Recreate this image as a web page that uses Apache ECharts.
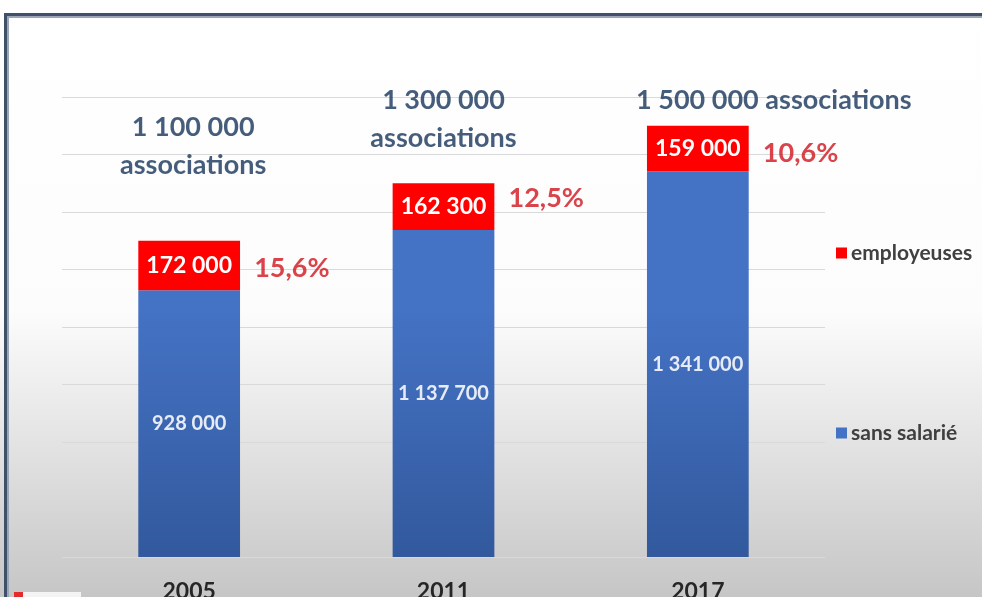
<!DOCTYPE html>
<html><head><meta charset="utf-8">
<script src="https://cdn.jsdelivr.net/npm/echarts@6/dist/echarts.min.js"></script>
<style>html,body{margin:0;padding:0;background:#fff}#c{width:982px;height:597px}</style>
</head><body><div id="c"></div>
<script>
const categories = ['2005', '2011', '2017'];
const sansSalarie = [928000, 1137700, 1341000];
const employeuses = [172000, 162300, 159000];
const totals = [1100000, 1300000, 1500000];
const percentages = ['15,6%', '12,5%', '10,6%'];
const yTicks = [0, 200000, 400000, 600000, 800000, 1000000, 1200000, 1400000, 1600000];

const fmt = v => String(v).replace(/\B(?=(\d{3})+(?!\d))/g, ' ');
const FONT = 'Lato';
const totalLabelStyles = [
  {text: fmt(totals[0]) + '\nassociations', distance: 56, offset: [4, 0]},
  {text: fmt(totals[1]) + '\nassociations', distance: 26, offset: [0, 0]},
  {text: fmt(totals[2]) + ' associations', distance: 6, offset: [76, 0]}
];
const pctOffsets = [[0, 3], [0, -8], [0, 5]];

const chart = echarts.init(document.getElementById('c'), null, {renderer: 'canvas'});
chart.setOption({
  animation: false,
  textStyle: {fontFamily: FONT},
  graphic: [
    {type: 'rect', z: -10, silent: true, shape: {x: 0, y: 0, width: 982, height: 597},
     style: {fill: {type: 'linear', x: 0, y: 0, x2: 0, y2: 1,
       colorStops: [{offset: 0, color: '#ffffff'}, {offset: 0.52, color: '#fcfcfc'}, {offset: 1, color: '#c6c6c6'}]}}},
    {type: 'rect', z: 10, silent: true, shape: {x: 4, y: 13, width: 978, height: 3}, style: {fill: '#3f5068'}},
    {type: 'rect', z: 10, silent: true, shape: {x: 4, y: 16, width: 978, height: 2}, style: {fill: '#9aa6b6'}},
    {type: 'rect', z: 10, silent: true, shape: {x: 4, y: 13, width: 3, height: 584}, style: {fill: '#3f5068'}},
    {type: 'rect', z: 10, silent: true, shape: {x: 7, y: 16, width: 2, height: 581}, style: {fill: '#9aa6b6'}},
    {type: 'rect', z: 10, silent: true, shape: {x: 14, y: 592, width: 9, height: 5}, style: {fill: '#e32b2b'}},
    {type: 'rect', z: 10, silent: true, shape: {x: 23, y: 592, width: 58, height: 5}, style: {fill: '#f4f4f4'}}
  ],
  grid: {left: 62, right: 157, top: 97, bottom: 40, containLabel: false, outerBoundsMode: 'none'},
  legend: {
    orient: 'vertical', left: 831, top: 237, itemGap: 158,
    itemWidth: 11, itemHeight: 11, icon: 'rect',
    data: ['employeuses', 'sans salarié'],
    textStyle: {fontFamily: FONT, fontSize: 21, lineHeight: 22, fontWeight: 'bold', color: '#404040', padding: [0, 0, 0, -1]}
  },
  xAxis: {
    type: 'category', data: categories,
    axisLine: {show: false}, axisTick: {show: false},
    axisLabel: {margin: 23, fontSize: 23, fontWeight: 'bold', color: '#262626', fontFamily: FONT}
  },
  yAxis: {
    type: 'value', min: 0, max: 1600000, interval: 200000,
    axisLabel: {show: false}, axisLine: {show: false}, axisTick: {show: false},
    splitLine: {lineStyle: {color: '#d9d9d9', width: 1}}
  },
  series: [
    {
      name: 'sans salarié', type: 'bar', stack: 'a', barWidth: '40%',
      data: sansSalarie,
      itemStyle: {color: {type: 'linear', x: 0, y: 0, x2: 0, y2: 597, global: true,
        colorStops: [{offset: 0, color: '#4472c4'}, {offset: 0.52, color: '#4472c4'}, {offset: 1, color: '#2f5597'}]}},
      label: {show: true, position: 'inside', color: '#e6ebf5', fontSize: 20, fontWeight: 'bold',
        fontFamily: FONT, formatter: p => fmt(p.value)}
    },
    {
      name: 'employeuses', type: 'bar', stack: 'a',
      data: employeuses,
      itemStyle: {color: '#ff0000'},
      label: {show: true, position: 'inside', color: '#ffffff', fontSize: 23, fontWeight: 'bold',
        fontFamily: FONT, formatter: p => fmt(p.value)}
    },
    {
      name: 'totaux', type: 'scatter', symbolSize: 0, silent: true,
      data: totals.map((v, i) => ({
        value: [categories[i], v],
        label: {distance: totalLabelStyles[i].distance, offset: totalLabelStyles[i].offset}
      })),
      label: {show: true, position: 'top', align: 'center', color: '#17345a', fontSize: 27,
        fontWeight: 'bold', lineHeight: 38, fontFamily: FONT,
        formatter: p => totalLabelStyles[p.dataIndex].text}
    },
    {
      name: 'pourcentages', type: 'scatter', symbolSize: 0, silent: true,
      data: employeuses.map((v, i) => ({
        value: [categories[i], sansSalarie[i] + v / 2],
        label: {offset: pctOffsets[i]}
      })),
      label: {show: true, position: 'right', distance: 65, color: '#d0141b', fontSize: 27,
        fontWeight: 'bold', fontFamily: FONT,
        formatter: p => percentages[p.dataIndex]}
    }
  ]
});
</script></body></html>
